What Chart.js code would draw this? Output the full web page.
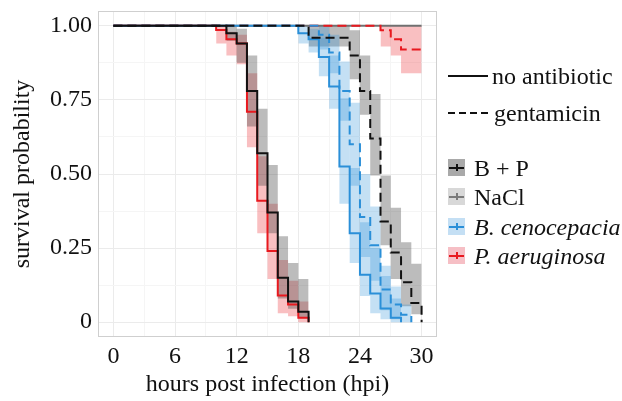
<!DOCTYPE html>
<html>
<head>
<meta charset="utf-8">
<script src="https://cdn.jsdelivr.net/npm/chart.js@4.4.1/dist/chart.umd.min.js"></script>
<style>
    body { margin: 0; background: #fff; }
    #wrap { position: relative; width: 622px; height: 401px; font-family: 'Liberation Serif', 'Times New Roman', serif; color: #111; }
    #legend { position: absolute; left: 447px; top: 0; width: 175px; height: 401px; }
    .item { position: absolute; left: 0; height: 24px; white-space: nowrap; font-size: 24px; line-height: 24px; }
    .item .txt { position: absolute; top: 0; }
    .line { position: absolute; left: 1px; top: 11px; width: 40px; height: 2px; background: #111; }
    .dash { background: repeating-linear-gradient(90deg, #111 0 7px, transparent 7px 11px); }
    .key { position: absolute; left: 1px; top: 3px; width: 17px; height: 17px; }
    .key .h { position: absolute; left: 1px; top: 8px; width: 15px; height: 2px; }
    .key .v { position: absolute; left: 8px; top: 5px; width: 2px; height: 7px; }
    i { font-style: italic; }
</style>
</head>
<body>
<div id="wrap">
    <canvas id="kmChart" width="622" height="401"></canvas>
    <div id="legend">
        <div class="item" style="top:64px"><div class="line"></div><span class="txt" style="left:45px">no antibiotic</span></div>
        <div class="item" style="top:101px"><div class="line dash"></div><span class="txt" style="left:47px">gentamicin</span></div>
        <div class="item" style="top:156px"><div class="key" style="background:#a9a9a9"><div class="h" style="background:#111"></div><div class="v" style="background:#111"></div></div><span class="txt" style="left:27px">B + P</span></div>
        <div class="item" style="top:185px"><div class="key" style="background:#d8d8d8"><div class="h" style="background:#7a7a7a"></div><div class="v" style="background:#7a7a7a"></div></div><span class="txt" style="left:27px">NaCl</span></div>
        <div class="item" style="top:215px"><div class="key" style="background:#c4dff4"><div class="h" style="background:#2a8fd8"></div><div class="v" style="background:#2a8fd8"></div></div><span class="txt" style="left:27px"><i>B. cenocepacia</i></span></div>
        <div class="item" style="top:244px"><div class="key" style="background:#f6bfc5"><div class="h" style="background:#e8191f"></div><div class="v" style="background:#e8191f"></div></div><span class="txt" style="left:27px"><i>P. aeruginosa</i></span></div>
    </div>
</div>
<script>
// Courbes de survie (Kaplan-Meier)

// B + P, sans antibiotique
const bpTimes = [0, 11, 12, 13, 14, 15, 16, 17, 18, 19];
const bpSurv  = [1, 0.975, 0.94, 0.78, 0.57, 0.37, 0.15, 0.07, 0.035, 0];
const bpLow   = [1, 0.95, 0.875, 0.66, 0.46, 0.30, 0.08, 0.045, 0.013, 0];
const bpHigh  = [1, 1, 0.99, 0.90, 0.72, 0.53, 0.29, 0.20, 0.146, 0];

// P. aeruginosa, sans antibiotique
const paTimes = [0, 10, 11, 12, 13, 14, 15, 16, 17, 18, 19];
const paSurv  = [1, 0.986, 0.955, 0.94, 0.71, 0.41, 0.24, 0.09, 0.06, 0.015, 0];
const paLow   = [1, 0.94, 0.90, 0.87, 0.59, 0.30, 0.146, 0.03, 0.02, 0, 0];
const paHigh  = [1, 1, 0.98, 0.97, 0.84, 0.56, 0.40, 0.21, 0.14, 0.07, 0];

// B. cenocepacia, sans antibiotique
const bcTimes = [0, 18, 19, 20, 21, 22, 23, 24, 25, 26, 27, 28];
const bcSurv  = [1, 0.975, 0.955, 0.895, 0.795, 0.525, 0.30, 0.16, 0.097, 0.046, 0.015, 0];
const bcLow   = [1, 0.94, 0.91, 0.83, 0.72, 0.40, 0.20, 0.088, 0.03, 0.01, 0, 0];
const bcHigh  = [1, 1, 0.99, 0.96, 0.90, 0.756, 0.52, 0.337, 0.25, 0.156, 0.08, 0];

// B. cenocepacia, gentamicine
const bcgTimes = [0, 20, 21, 22, 23, 24, 25, 26, 27, 28, 29];
const bcgSurv  = [1, 0.97, 0.91, 0.78, 0.60, 0.355, 0.26, 0.11, 0.06, 0.025, 0];
const bcgLow   = [1, 0.92, 0.84, 0.68, 0.46, 0.22, 0.14, 0.04, 0.01, 0, 0];
const bcgHigh  = [1, 1, 0.97, 0.88, 0.74, 0.50, 0.39, 0.19, 0.12, 0.06, 0];

// B + P, gentamicine
const bpgTimes = [0, 19, 23, 24, 25, 26, 27, 28, 29, 30];
const bpgSurv  = [1, 0.96, 0.90, 0.78, 0.62, 0.34, 0.235, 0.135, 0.065, 0];
const bpgLow   = [1, 0.93, 0.82, 0.70, 0.495, 0.26, 0.146, 0.054, 0.027, 0];
const bpgHigh  = [1, 1, 0.985, 0.90, 0.77, 0.495, 0.386, 0.27, 0.197, 0];

// P. aeruginosa, gentamicine
const pagTimes = [0, 26, 27, 28, 30];
const pagSurv  = [1, 0.985, 0.955, 0.92, 0.92];
const pagLow   = [1, 0.93, 0.90, 0.84, 0.84];
const pagHigh  = [1, 1, 1, 1, 1];

// NaCl (aucune mortalité)
const naclTimes = [0, 30];
const naclSurv  = [1, 1];

// axes
const xGrid = [0, 3, 6, 9, 12, 15, 18, 21, 24, 27, 30];
const xTickLabels = ['0', '6', '12', '18', '24', '30'];
const yGrid = [0, 0.125, 0.25, 0.375, 0.5, 0.625, 0.75, 0.875, 1];
const yTickValues = [0, 0.25, 0.5, 0.75, 1];
const yTickLabels = ['0', '0.25', '0.50', '0.75', '1.00'];

const BLACK = '#111111';
const RED = '#e8191f';
const BLUE = '#2a8fd8';
const GREY = '#707070';
const DASH = [9, 5];

function toPoints(times, values) {
    return times.map((t, i) => ({ x: t, y: values[i] }));
}

function curve(times, surv, color, dashed, order) {
    return {
        data: toPoints(times, surv),
        borderColor: color,
        borderWidth: 2,
        borderDash: dashed ? DASH : [],
        stepped: true,
        pointRadius: 0,
        fill: false,
        order: order
    };
}

function band(times, low, high, color) {
    // bande de confiance : à partir du premier décès
    const t = times.slice(1);
    return [
        {
            data: toPoints(t, high.slice(1)),
            borderWidth: 0,
            borderColor: 'transparent',
            backgroundColor: color,
            stepped: true,
            pointRadius: 0,
            fill: '+1',
            order: 20
        },
        {
            data: toPoints(t, low.slice(1)),
            borderWidth: 0,
            borderColor: 'transparent',
            stepped: true,
            pointRadius: 0,
            fill: false,
            order: 21
        }
    ];
}

const greyBand = 'rgba(70, 70, 70, 0.36)';
const pinkBand = 'rgba(232, 25, 31, 0.28)';
const blueBand = 'rgba(42, 143, 216, 0.28)';

const datasets = [
    ...band(bpTimes, bpLow, bpHigh, greyBand),
    ...band(paTimes, paLow, paHigh, pinkBand),
    ...band(bcTimes, bcLow, bcHigh, blueBand),
    ...band(bcgTimes, bcgLow, bcgHigh, blueBand),
    ...band(bpgTimes, bpgLow, bpgHigh, greyBand),
    ...band(pagTimes, pagLow, pagHigh, pinkBand),
    curve(naclTimes, naclSurv, GREY, false, 7),
    curve(pagTimes, pagSurv, RED, true, 6),
    curve(bcgTimes, bcgSurv, BLUE, true, 5),
    curve(paTimes, paSurv, RED, false, 4),
    curve(bcTimes, bcSurv, BLUE, false, 3),
    curve(bpgTimes, bpgSurv, BLACK, true, 2),
    curve(bpTimes, bpSurv, BLACK, false, 1)
];

const serif = "'Liberation Serif', 'Times New Roman', serif";

// cadre du panneau
const panelBorder = {
    id: 'panelBorder',
    afterDatasetsDraw(chart) {
        const a = chart.chartArea;
        const ctx = chart.ctx;
        ctx.save();
        ctx.strokeStyle = '#cfcfcf';
        ctx.lineWidth = 1;
        ctx.strokeRect(a.left + 0.5, a.top + 0.5, a.right - a.left - 1, a.bottom - a.top - 1);
        ctx.restore();
    }
};

document.addEventListener('DOMContentLoaded', function() {
    const ctx = document.getElementById('kmChart').getContext('2d');

    new Chart(ctx, {
        type: 'line',
        data: { datasets: datasets },
        options: {
            responsive: false,
            animation: false,
            events: [],
            layout: { padding: { top: 11, right: 185, left: 0, bottom: 0 } },
            plugins: {
                legend: { display: false },
                tooltip: { enabled: false }
            },
            scales: {
                x: {
                    type: 'linear',
                    min: -1.5,
                    max: 31.5,
                    afterBuildTicks: function(scale) {
                        scale.ticks = xGrid.map(v => ({ value: v }));
                    },
                    afterFit: function(scale) {
                        scale.height = 64;
                        scale.paddingLeft = 0;
                        scale.paddingRight = 0;
                    },
                    ticks: {
                        autoSkip: false,
                        maxRotation: 0,
                        padding: 5,
                        color: '#111',
                        font: { family: serif, size: 24 },
                        callback: function(value) {
                            return value % 6 === 0 ? xTickLabels[value / 6] : '';
                        }
                    },
                    grid: {
                        drawTicks: false,
                        color: function(c) {
                            return c.tick && c.tick.value % 6 === 0 ? '#ebebeb' : '#f5f5f5';
                        }
                    },
                    border: { display: false },
                    title: {
                        display: true,
                        text: 'hours post infection (hpi)',
                        color: '#111',
                        font: { family: serif, size: 24 },
                        padding: { top: 0, bottom: 2 }
                    }
                },
                y: {
                    type: 'linear',
                    min: -0.05,
                    max: 1.05,
                    afterBuildTicks: function(scale) {
                        scale.ticks = yGrid.map(v => ({ value: v }));
                    },
                    afterFit: function(scale) {
                        scale.width = 98;
                        scale.paddingTop = 0;
                        scale.paddingBottom = 0;
                    },
                    ticks: {
                        autoSkip: false,
                        padding: 6,
                        color: '#111',
                        font: { family: serif, size: 24 },
                        callback: function(value) {
                            const i = yTickValues.indexOf(value);
                            return i >= 0 ? yTickLabels[i] : '';
                        }
                    },
                    grid: {
                        drawTicks: false,
                        color: function(c) {
                            return c.tick && yTickValues.includes(c.tick.value) ? '#ebebeb' : '#f5f5f5';
                        }
                    },
                    border: { display: false },
                    title: {
                        display: true,
                        text: 'survival probability',
                        color: '#111',
                        font: { family: serif, size: 24 },
                        padding: { top: 8, bottom: 0 }
                    }
                }
            }
        },
        plugins: [panelBorder]
    });
});
</script>
</body>
</html>
